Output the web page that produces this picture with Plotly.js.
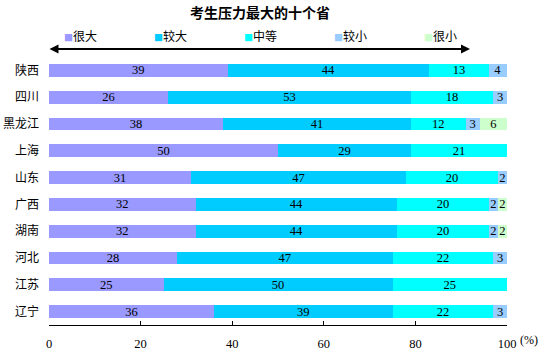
<!DOCTYPE html>
<html>
<head>
<meta charset="utf-8">
<script src="https://cdn.plot.ly/plotly-3.0.1.min.js"></script>
<style>html,body{margin:0;padding:0;background:#fff;}#chart{width:550px;height:359px;}</style>
</head>
<body>
<div id="chart"></div>
<script>
const provinces = ['陕西','四川','黑龙江','上海','山东','广西','湖南','河北','江苏','辽宁'];
const seriesNames = ['很大','较大','中等','较小','很小'];
const seriesColors = ['#9999FF','#00CCFF','#00FFFF','#99CCFF','#CCFFCC'];
const veryHigh = [39,26,38,50,31,32,32,28,25,36];
const high     = [44,53,41,29,47,44,44,47,50,39];
const medium   = [13,18,12,21,20,20,20,22,25,22];
const low      = [4,3,3,null,2,2,2,3,null,3];
const veryLow  = [null,null,6,null,null,2,2,null,null,null];
const xTicks = [0,20,40,60,80,100];

const allSeries = [veryHigh, high, medium, low, veryLow];
const cjk = '"Noto Sans CJK SC", "Noto Sans", sans-serif';
const serif = '"Liberation Serif", "DejaVu Serif", serif';

const traces = allSeries.map((vals, i) => ({
  type: 'bar',
  orientation: 'h',
  name: seriesNames[i],
  y: provinces,
  x: vals,
  text: vals.map(v => v == null ? '' : String(v)),
  textposition: 'inside',
  insidetextanchor: 'middle',
  textangle: 0,
  constraintext: 'none',
  textfont: {family: serif, size: 12.5, color: '#000'},
  marker: {color: seriesColors[i], line: {width: 0}},
  hoverinfo: 'skip',
  showlegend: false
}));

const legendX = [62, 152, 242, 332, 422];
const plotL = 49, plotR = 507, plotT = 57, plotB = 325;
const pw = plotR - plotL, ph = plotB - plotT;
const px2x = p => (p - plotL) / pw;
const px2y = p => (plotB - p) / ph;

const annotations = seriesNames.map((n, i) => ({
  xref: 'paper', yref: 'paper',
  x: px2x(legendX[i]), y: px2y(36),
  xanchor: 'left', yanchor: 'middle',
  showarrow: false,
  text: '<span style="color:' + seriesColors[i] + ';font-size:9px">■</span>' + n,
  font: {family: cjk, size: 12, color: '#000'}
}));
annotations.push({
  xref: 'paper', yref: 'paper', axref: 'paper', ayref: 'paper',
  x: px2x(470), y: px2y(49), ax: px2x(48), ay: px2y(49),
  showarrow: true, arrowside: 'end+start', arrowhead: 2, startarrowhead: 2,
  arrowsize: 0.9, startarrowsize: 0.9, arrowwidth: 2, arrowcolor: '#000', text: ''
});
annotations.push({
  xref: 'paper', yref: 'paper',
  x: px2x(529), y: px2y(340), xanchor: 'center', yanchor: 'middle',
  showarrow: false, text: '(%)',
  font: {family: serif, size: 12, color: '#000'}
});

const layout = {
  width: 550, height: 359,
  margin: {l: plotL, r: 550 - plotR, t: plotT, b: 359 - plotB},
  paper_bgcolor: '#fff', plot_bgcolor: '#fff',
  barmode: 'stack',
  bargap: 0.52,
  title: {text: '<b>考生压力最大的十个省</b>', x: 260/550, xanchor: 'center', y: 1 - 13/359, yanchor: 'middle',
          font: {family: cjk, size: 14, color: '#000'}},
  xaxis: {range: [0, 100], tickvals: xTicks, ticktext: xTicks.map(String),
          showgrid: false, zeroline: false, showline: true, linecolor: '#000', linewidth: 1,
          ticks: 'inside', ticklen: 4, tickcolor: '#000', ticklabelstandoff: 7,
          tickfont: {family: serif, size: 12.5, color: '#000'}, fixedrange: true},
  yaxis: {type: 'category', range: [9.5, -0.5], showgrid: false, zeroline: false, showline: false,
          ticks: '', ticklabelstandoff: 9, tickfont: {family: cjk, size: 12, color: '#000'}, fixedrange: true},
  annotations: annotations,
  showlegend: false
};

Plotly.newPlot('chart', traces, layout, {displayModeBar: false, staticPlot: true});
</script>
</body>
</html>
